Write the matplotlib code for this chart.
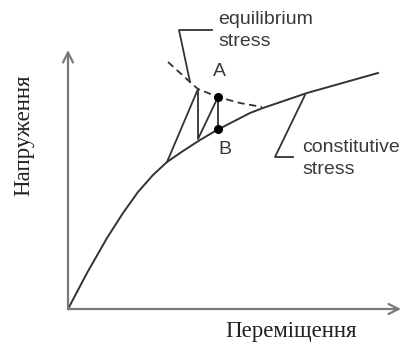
import matplotlib
matplotlib.use('Agg')  # no display
import matplotlib.pyplot as plt

# Schematic values (displacement, stress), origin at the axes corner
constitutive_x = [0, 19, 39, 55, 70, 85, 99, 115, 132, 149, 182, 195, 239, 310]
constitutive_y = [0, 36, 71, 96, 117, 134, 147, 158, 169, 179, 196, 201, 216, 236]

equilibrium_x = [100, 122, 130, 150, 172, 194]
equilibrium_y = [247, 227, 220, 212, 206, 202]

# iteration path: constitutive -> equilibrium -> constitutive ...
path_x = [99, 130, 130, 150, 150]
path_y = [147, 220, 170, 212, 180]

point_a = (150, 212)
point_b = (150, 180)

eq_leader_x = [144, 111, 122]
eq_leader_y = [279, 279, 227]
con_leader_x = [237, 207, 225]
con_leader_y = [214, 152, 152]

x_label = "Переміщення"
y_label = "Напруження"

fig = plt.figure(figsize=(4.02, 3.53), dpi=100)
ax = fig.add_axes([0, 0, 1, 1])
ax.set_xlim(-68, 334)
ax.set_ylim(-44, 309)
ax.axis('off')

axis_col = '#7a7a7a'
line_col = '#333333'

# axes with open arrow heads
ax.annotate('', xy=(0, 259), xytext=(0, 0),
            arrowprops=dict(arrowstyle='->', color=axis_col, lw=1.6,
                            mutation_scale=18, shrinkA=0, shrinkB=0))
ax.annotate('', xy=(333, 0), xytext=(0, 0),
            arrowprops=dict(arrowstyle='->', color=axis_col, lw=1.6,
                            mutation_scale=18, shrinkA=0, shrinkB=0))

ax.plot(constitutive_x, constitutive_y, color=line_col, lw=1.4,
        solid_joinstyle='round')
ax.plot(equilibrium_x, equilibrium_y, color=line_col, lw=1.3, dashes=(4, 2.5))
ax.plot(path_x, path_y, color=line_col, lw=1.3)
ax.plot(*zip(point_a, point_b), 'o', color='black', ms=5.5)

ax.plot(eq_leader_x, eq_leader_y, color=line_col, lw=1.3)
ax.plot(con_leader_x, con_leader_y, color=line_col, lw=1.3)

sans = dict(family='Liberation Sans', fontsize=14, color='#3a3a3a')
ax.text(150, 290, "equilibrium", ha='left', va='center', **sans)
ax.text(150, 268, "stress", ha='left', va='center', **sans)
ax.text(234, 161, "constitutive", ha='left', va='center', **sans)
ax.text(234, 139, "stress", ha='left', va='center', **sans)
ax.text(151, 238, "A", ha='center', va='center', **sans)
ax.text(157, 159, "B", ha='center', va='center', **sans)

serif = dict(family='Liberation Serif', fontsize=16.5, color='#222222')
ax.text(223, -23, x_label, ha='center', va='center', **serif)
ax.text(-44, 174, y_label, ha='center', va='center', rotation=90, **serif)

fig.savefig('out.png', dpi=100)
